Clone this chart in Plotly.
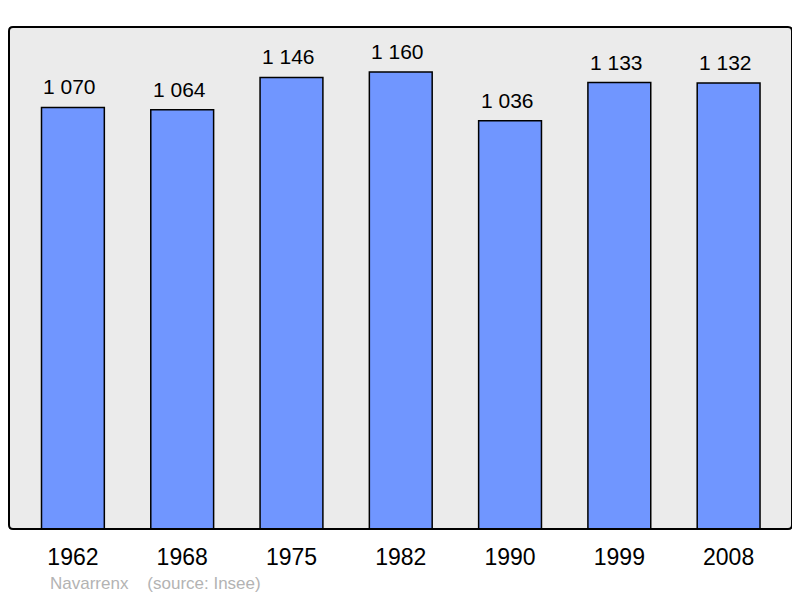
import plotly.graph_objects as go

years = ["1962", "1968", "1975", "1982", "1990", "1999", "2008"]
population = [1070, 1064, 1146, 1160, 1036, 1133, 1132]
value_labels = ["1 070", "1 064", "1 146", "1 160", "1 036", "1 133", "1 132"]
source_text = "Navarrenx    (source: Insee)"

# page body has an 8px margin; figure is placed at (8, 8)
OFF = 8
W, H = 792, 590
L, R, T, B = 1, 8, 27 - OFF, 69
pw, ph = W - L - R, H - T - B

FONT = "Liberation Sans, Arial, sans-serif"
xs = list(range(len(years)))

fig = go.Figure()
fig.add_trace(go.Bar(
    x=xs, y=population, width=0.575,
    marker=dict(color="#7096ff", line=dict(color="#000000", width=1.5)),
    hoverinfo="skip",
))

for x, v, lab in zip(xs, population, value_labels):
    fig.add_annotation(x=x, y=v, text=lab, showarrow=False, yanchor="bottom",
                       yshift=7, xshift=-3,
                       font=dict(size=21, color="#000000", family=FONT))

# rounded panel border
rx = 4 / pw
ry = 4 / ph
path = (f"M {rx},0 L {1-rx},0 Q 1,0 1,{ry} L 1,{1-ry} Q 1,1 {1-rx},1 "
        f"L {rx},1 Q 0,1 0,{1-ry} L 0,{ry} Q 0,0 {rx},0 Z")
fig.add_shape(type="path", path=path, xref="paper", yref="paper",
              line=dict(color="#000000", width=2), fillcolor="rgba(0,0,0,0)", layer="above")

fig.add_annotation(text=source_text, xref="paper", yref="paper",
                   x=(48 - OFF - L) / pw, y=-(583 - OFF - (T + ph)) / ph,
                   xanchor="left", yanchor="middle", showarrow=False,
                   font=dict(size=17, color="#b3b3b3", family=FONT))

fig.update_layout(
    width=W, height=H,
    margin=dict(l=L, r=R, t=T, b=B),
    paper_bgcolor="#ffffff",
    plot_bgcolor="#ebebeb",
    showlegend=False,
    font=dict(family=FONT, color="#000000"),
    xaxis=dict(range=[-0.594 + 1 / 109.4, 6.58], tickmode="array", tickvals=xs, ticktext=years,
               showgrid=False, zeroline=False, showline=False, ticks="",
               tickfont=dict(size=23, color="#000000"), ticklabelstandoff=12, fixedrange=True),
    yaxis=dict(range=[0, 1274], showgrid=False, zeroline=False, showline=False,
               showticklabels=False, ticks="", fixedrange=True),
)

fig.write_html("out.html")
